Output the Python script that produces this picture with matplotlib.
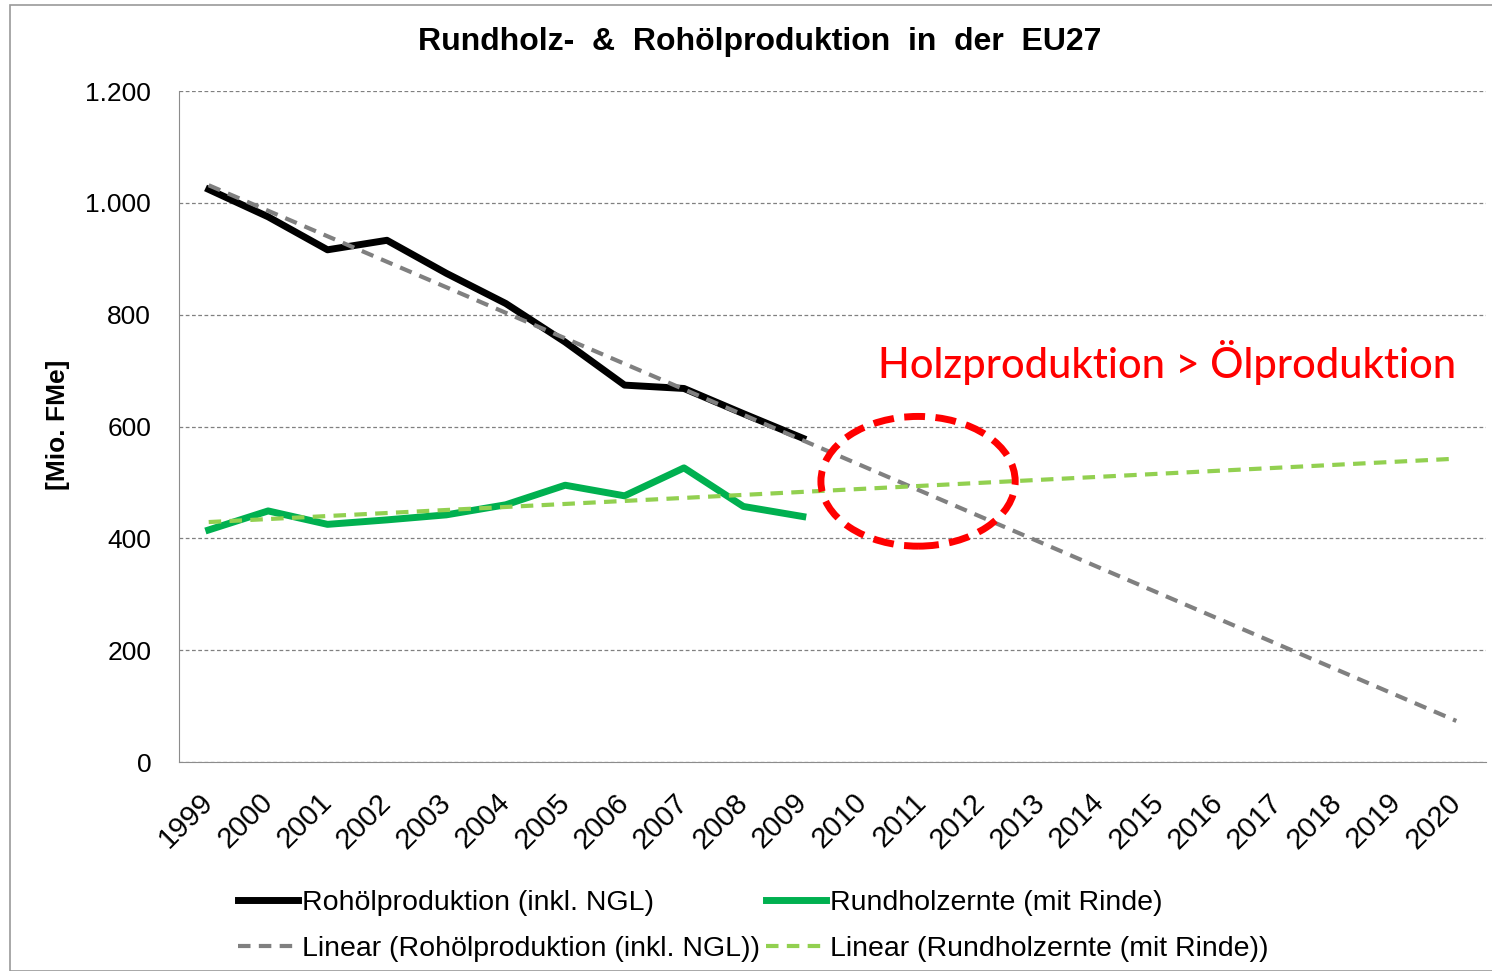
# Import libraries
import matplotlib.pyplot as plt
import matplotlib.ticker as mticker
from matplotlib.patches import Ellipse, Rectangle
import numpy as np

plt.rcParams.update({
    'font.family': ['Liberation Sans', 'DejaVu Sans'],
    'figure.dpi': 100,
})

# --- Data (Mio. FMe) ---
years = [str(y) for y in range(1999, 2021)]
data_years = years[:11]
rohoel = [1024, 975, 916, 933, 874, 820, 751, 674, 668, 623, 579]
rundholz = [415, 449, 425, 433, 442, 460, 495, 476, 526, 457, 439]

# Excel-style linear trendlines, fitted on the data years, drawn over all years
x_all = np.arange(len(years))
x_data = np.arange(len(data_years))
oil_fit = np.polyfit(x_data, rohoel, 1)
wood_fit = np.polyfit(x_data, rundholz, 1)

fig = plt.figure(figsize=(14.92, 9.71))
ax = fig.add_axes([179 / 1492, 1 - 762 / 971, 1307 / 1492, 671 / 971])

# outer chart border
fig.patches.append(Rectangle((10 / 1492, 0), 1.0, 1 - 5 / 971, transform=fig.transFigure,
                             fill=False, edgecolor='#9a9a9a', linewidth=1.2))

l_oil, = ax.plot(x_data, rohoel, color='black', linewidth=5, solid_joinstyle='round',
                 label='Rohölproduktion (inkl. NGL)', zorder=3)
l_wood, = ax.plot(x_data, rundholz, color='#00B050', linewidth=5, solid_joinstyle='round',
                  label='Rundholzernte (mit Rinde)', zorder=3)
t_oil, = ax.plot(x_all, np.polyval(oil_fit, x_all), color='#808080', linewidth=3,
                 linestyle=(0, (3, 2)), label='Linear (Rohölproduktion (inkl. NGL))', zorder=4)
t_wood, = ax.plot(x_all, np.polyval(wood_fit, x_all), color='#92D050', linewidth=3,
                  linestyle=(0, (3, 2)), label='Linear (Rundholzernte (mit Rinde))', zorder=4)

# highlight ellipse
ax.add_patch(Ellipse((11.94, 502), 3.27, 232, fill=False, edgecolor='#FF0000',
                     linewidth=5, linestyle=(0, (3, 1.5)), zorder=5))
ax.text(21.0, 714, 'Holzproduktion > Ölproduktion', color='#FF0000', fontsize=30,
        family=['Lato', 'DejaVu Sans'], fontweight='medium', ha='right', va='center')

# axes
ax.set_xlim(-0.5, len(years) - 0.5)
ax.set_ylim(0, 1200)
ax.set_xticks(x_all)
ax.set_xticklabels(years, rotation=45, ha='right', va='center', rotation_mode='anchor',
                   fontsize=21)
ax.set_yticks(np.arange(0, 1201, 200))
ax.yaxis.set_major_formatter(mticker.FuncFormatter(lambda v, p: f'{int(v):,}'.replace(',', '.')))
ax.tick_params(axis='y', labelsize=19, length=0, pad=20)
ax.tick_params(axis='x', length=0, pad=26)
ax.grid(axis='y', color='#808080', linestyle=(0, (3, 2)), linewidth=0.9)
for s in ['top', 'right']:
    ax.spines[s].set_visible(False)
ax.spines['left'].set_color('#8c8c8c')
ax.spines['bottom'].set_color('#8c8c8c')

ax.set_ylabel('[Mio. FMe]', fontsize=19, fontweight='bold')
ax.yaxis.set_label_coords((70 - 179) / 1307, (762 - 425) / 671)
fig.text(760 / 1492, 1 - 42 / 971, 'Rundholz-  &  Rohölproduktion  in  der  EU27',
         ha='center', va='center', fontsize=23, fontweight='bold')

fig.legend(handles=[l_oil, t_oil, l_wood, t_wood], ncol=2, loc='upper left',
           bbox_to_anchor=(238 / 1492, 1 - 890 / 971), frameon=False,
           prop={'family': ['Liberation Sans Narrow', 'Liberation Sans'], 'size': 20.5},
           handlelength=2.1, handletextpad=0.15, columnspacing=0.2,
           labelspacing=0.7, borderaxespad=0, borderpad=0)

plt.savefig('out.png', dpi=100)
